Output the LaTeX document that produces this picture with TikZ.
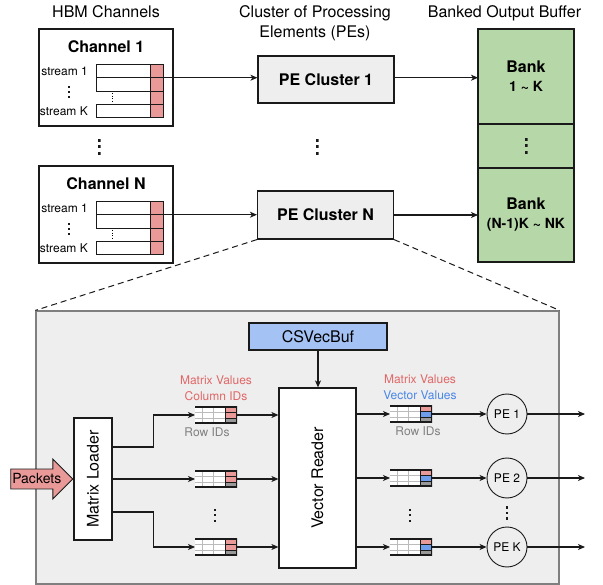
\documentclass[tikz,border=0pt]{standalone}
\usepackage{fontspec}
\setmainfont{TeX Gyre Heros}
\usepackage{graphicx}
\usepackage{xcolor}
\usepackage{tikz}
\usetikzlibrary{arrows.meta,positioning,calc,shapes.arrows}
\definecolor{spmvInk}{HTML}{1A1A1A}
\definecolor{spmvPink}{HTML}{EA9999}
\definecolor{spmvRed}{HTML}{E06666}
\definecolor{spmvBlueText}{HTML}{4A86E8}
\definecolor{spmvGreen}{HTML}{B6D7A8}
\definecolor{spmvGrey}{HTML}{EEEEEE}
\definecolor{spmvFrame}{HTML}{7F7F7F}
\definecolor{spmvBuf}{HTML}{A4C2F4}
\definecolor{spmvCellBlue}{HTML}{6D9EEB}
\definecolor{spmvCellGrey}{HTML}{999999}
\definecolor{spmvGridLine}{HTML}{BBBBBB}
\definecolor{spmvRowGrey}{HTML}{808080}

\begin{document}
\begin{tikzpicture}[
  x=1pt,y=1pt,
  font=\fontsize{16}{20}\selectfont,
  chan/.style={draw=spmvInk,line width=1.2pt,minimum width=134pt,minimum height=97pt},
  lane/.style={draw=spmvInk,line width=0.8pt,minimum width=54pt,minimum height=13.25pt,inner sep=0pt,outer sep=0pt},
  cell/.style={lane,fill=spmvPink,minimum width=13pt},
  small/.style={font=\fontsize{12}{16}\selectfont,inner sep=0pt},
  title/.style={font=\fontsize{16}{20}\selectfont\bfseries,inner sep=0pt},
  cluster/.style={draw=spmvInk,fill=spmvGrey,line width=1.2pt,minimum width=136pt,minimum height=47pt,font=\fontsize{16}{20}\selectfont\bfseries},
  bank/.style={draw=spmvInk,fill=spmvGreen,line width=1.2pt,minimum width=96pt,outer sep=0pt,align=center,font=\fontsize{16}{19}\selectfont\bfseries},
  unit/.style={draw=spmvInk,fill=white,line width=1.2pt},
  packet/.style={single arrow,draw=spmvInk,fill=spmvPink,line width=0.9pt,font=\fontsize{14}{16}\selectfont,minimum height=62pt,single arrow head extend=10pt,single arrow tip angle=90,inner xsep=1pt,inner ysep=4.5pt,text height=10pt,text depth=0pt},
  fifo/.style={minimum width=42pt,minimum height=17pt,inner sep=0pt,outer sep=0pt,
    path picture={
      \begin{scope}[shift={(path picture bounding box.center)}]
        \fill[white] (-21,-8.5) rectangle (9,8.5);
        \fill[spmvPink] (9,2.83) rectangle (21,8.5);
        \fill[#1] (9,-2.83) rectangle (21,2.83);
        \fill[spmvCellGrey] (9,-8.5) rectangle (21,-2.83);
        \draw[spmvGridLine,line width=0.6pt] (-21,2.83) -- (9,2.83) (-21,-2.83) -- (9,-2.83) (-14,-8.5) -- (-14,8.5) (-3,-8.5) -- (-3,8.5);
        \draw[spmvInk,line width=0.5pt] (9,-8.5) -- (9,8.5) (9,2.83) -- (21,2.83) (9,-2.83) -- (21,-2.83);
        \draw[spmvInk,line width=2.6pt] (-21,8.5) -- (21,8.5) -- (21,-8.5) -- (-21,-8.5);
      \end{scope}}},
  fifo/.default=spmvPink,
  vdots/.style 2 args={inner sep=0pt,outer sep=0pt,minimum width=#1pt,minimum height={(2*#2+#1)*1pt},
    path picture={
      \begin{scope}[shift={(path picture bounding box.center)}]
        \fill[spmvInk] (-#1/2,-#2-#1/2) rectangle (#1/2,-#2+#1/2);
        \fill[spmvInk] (-#1/2,-#1/2) rectangle (#1/2,#1/2);
        \fill[spmvInk] (-#1/2,#2-#1/2) rectangle (#1/2,#2+#1/2);
      \end{scope}}},
  pe/.style={circle,draw=spmvInk,line width=0.9pt,minimum size=40pt,inner sep=0pt,font=\fontsize{12}{14}\selectfont},
  arr/.style={-{Stealth[length=7pt,width=6pt,inset=2pt]},line width=1.1pt,spmvInk},
  zoomline/.style={dash pattern=on 6pt off 4pt,line width=1pt,spmvInk}
]
  \useasboundingbox (0,0) rectangle (603,-585);

  \node[inner sep=0pt] (hbm) at (106,-11.3) {HBM Channels};
  \node[inner sep=0pt,align=center] (petitle) at (315,-22.8) {Cluster of Processing\\Elements (PEs)};
  \node[inner sep=0pt] (buftitle) at (504.5,-12.8) {Banked Output Buffer};

  \node[chan] (ch1) at (106,-77.5) {};
  \node[title,below=12pt of ch1.north] (ch1t) {Channel 1};
  \node[lane] (ch1a) at (123,-71.1) {};
  \node[lane,below=0pt of ch1a] (ch1b) {};
  \node[lane,below=13.25pt of ch1b] (ch1k) {};
  \node[cell,right=0pt of ch1a] (ch1p1) {};
  \node[cell,right=0pt of ch1b] (ch1p2) {};
  \node[cell,below=0pt of ch1p2] (ch1p3) {};
  \node[cell,right=0pt of ch1k] (ch1p4) {};
  \node[small,left=8pt of ch1a] (ch1la) {stream 1};
  \node[small,left=8pt of ch1k] (ch1lk) {stream K};
  \node[vdots={2.2}{5}] (ch1ld) at (69,-92) {};
  \draw[dotted,line width=0.6pt] (112,-93) -- (112,-101);

  \node[vdots={3}{6.5}] (chdots) at (99,-147) {};

  \node[chan] (chN) at (106,-214.5) {};
  \node[title,below=12pt of chN.north] (chNt) {Channel N};
  \node[lane] (chNa) at (123,-208.1) {};
  \node[lane,below=0pt of chNa] (chNb) {};
  \node[lane,below=13.25pt of chNb] (chNk) {};
  \node[cell,right=0pt of chNa] (chNp1) {};
  \node[cell,right=0pt of chNb] (chNp2) {};
  \node[cell,below=0pt of chNp2] (chNp3) {};
  \node[cell,right=0pt of chNk] (chNp4) {};
  \node[small,left=8pt of chNa] (chNla) {stream 1};
  \node[small,left=8pt of chNk] (chNlk) {stream K};
  \node[vdots={2.2}{5}] (chNld) at (69,-229) {};
  \draw[dotted,line width=0.6pt] (112,-230) -- (112,-238);

  \node[cluster] (pc1) at (326,-79.5) {PE Cluster 1};
  \node[vdots={3}{6.5}] (pcdots) at (317,-147) {};
  \node[cluster,minimum height=48pt] (pcN) at (325.5,-215) {PE Cluster N};

  \node[bank,minimum height=95pt] (bank1) at (526,-76.5) {Bank\\{\fontsize{14}{17}\selectfont 1 \textasciitilde{} K}};
  \node[bank,minimum height=44pt,below=0pt of bank1] (bankd) {};
  \node[vdots={3}{6.5}] (bankdots) at (bankd) {};
  \node[bank,minimum height=94pt,below=0pt of bankd] (bankN) {Bank\\{\fontsize{14}{17}\selectfont (N-1)K \textasciitilde{} NK}};

  \draw[arr] (ch1p2.north east) -- (ch1p2.north east -| pc1.west);
  \draw[arr] (chNp2.north east) -- (chNp2.north east -| pcN.west);
  \draw[arr] (pc1.east |- ch1p2.north east) -- (bank1.west |- ch1p2.north east);
  \draw[arr] (pcN.east) -- (pcN.east -| bankN.west);

  \node[draw=spmvFrame,fill=spmvGrey,line width=1.2pt,minimum width=523pt,minimum height=273pt] (detail) at (297.5,-447.5) {};
  \draw[zoomline] (pcN.south west) -- (detail.north west);
  \draw[zoomline] (pcN.south east) -- (detail.north east);

  \node[draw=spmvInk,fill=spmvBuf,line width=1.2pt,minimum width=138pt,minimum height=27pt] (csv) at (318,-336.5) {CSVecBuf};
  \node[unit,minimum width=77pt,minimum height=180pt] (vr) at (317.5,-478) {\rotatebox{90}{Vector Reader}};
  \node[unit,minimum width=38pt,minimum height=122pt] (ml) at (93,-479) {\rotatebox{90}{Matrix Loader}};
  \node[packet,anchor=tip] (pkt) at (ml.west) {Packets};

  \node[fifo] (fl1) at (216,-415) {};
  \node[fifo] (fl2) at (216,-479) {};
  \node[fifo] (flK) at (216,-547) {};
  \node[small,text=spmvRed,align=center,above=6pt of fl1] (fl1top) {Matrix Values\\Column IDs};
  \node[small,text=spmvRowGrey,below=4pt of fl1,xshift=-9pt] (fl1bot) {Row IDs};
  \node[vdots={2}{5.5}] (fldots) at (215,-515) {};

  \node[fifo=spmvCellBlue] (fr1) at (411,-414) {};
  \node[fifo=spmvCellBlue] (fr2) at (411,-478) {};
  \node[fifo=spmvCellBlue] (frK) at (411,-547) {};
  \node[small,align=center,above=6pt of fr1,xshift=9pt] (fr1top) {\textcolor{spmvRed}{Matrix Values}\\\textcolor{spmvBlueText}{Vector Values}};
  \node[small,text=spmvRowGrey,below=4pt of fr1,xshift=7pt] (fr1bot) {Row IDs};
  \node[vdots={2}{5.5}] (frdots) at (410,-515) {};

  \node[pe] (pe1) at (507,-414) {PE 1};
  \node[pe] (pe2) at (507,-478) {PE 2};
  \node[pe] (peK) at (507,-547) {PE K};
  \node[vdots={2.4}{5.5}] (pedots) at (507,-513) {};
  \coordinate (out1) at (585,-414);
  \coordinate (out2) at (585,-478);
  \coordinate (outK) at (585,-547);

  \draw[arr] (csv.south) -- (csv.south |- vr.north);
  \draw[arr] ([yshift=32pt]ml.east) -- ++(41pt,0) |- (fl1.west);
  \draw[arr] (ml.east) -- (fl2.west);
  \draw[arr] ([yshift=-33pt]ml.east) -- ++(41pt,0) |- (flK.west);
  \draw[arr] (fl1.east) -- (fl1.east -| vr.west);
  \draw[arr] (fl2.east) -- (fl2.east -| vr.west);
  \draw[arr] (flK.east) -- (flK.east -| vr.west);
  \draw[arr] (vr.east |- fr1.west) -- (fr1.west);
  \draw[arr] (vr.east |- fr2.west) -- (fr2.west);
  \draw[arr] (vr.east |- frK.west) -- (frK.west);
  \draw[arr] (fr1.east) -- (pe1.west);
  \draw[arr] (fr2.east) -- (pe2.west);
  \draw[arr] (frK.east) -- (peK.west);
  \draw[arr] (pe1.east) -- (out1);
  \draw[arr] (pe2.east) -- (out2);
  \draw[arr] (peK.east) -- (outK);
\end{tikzpicture}
\end{document}
